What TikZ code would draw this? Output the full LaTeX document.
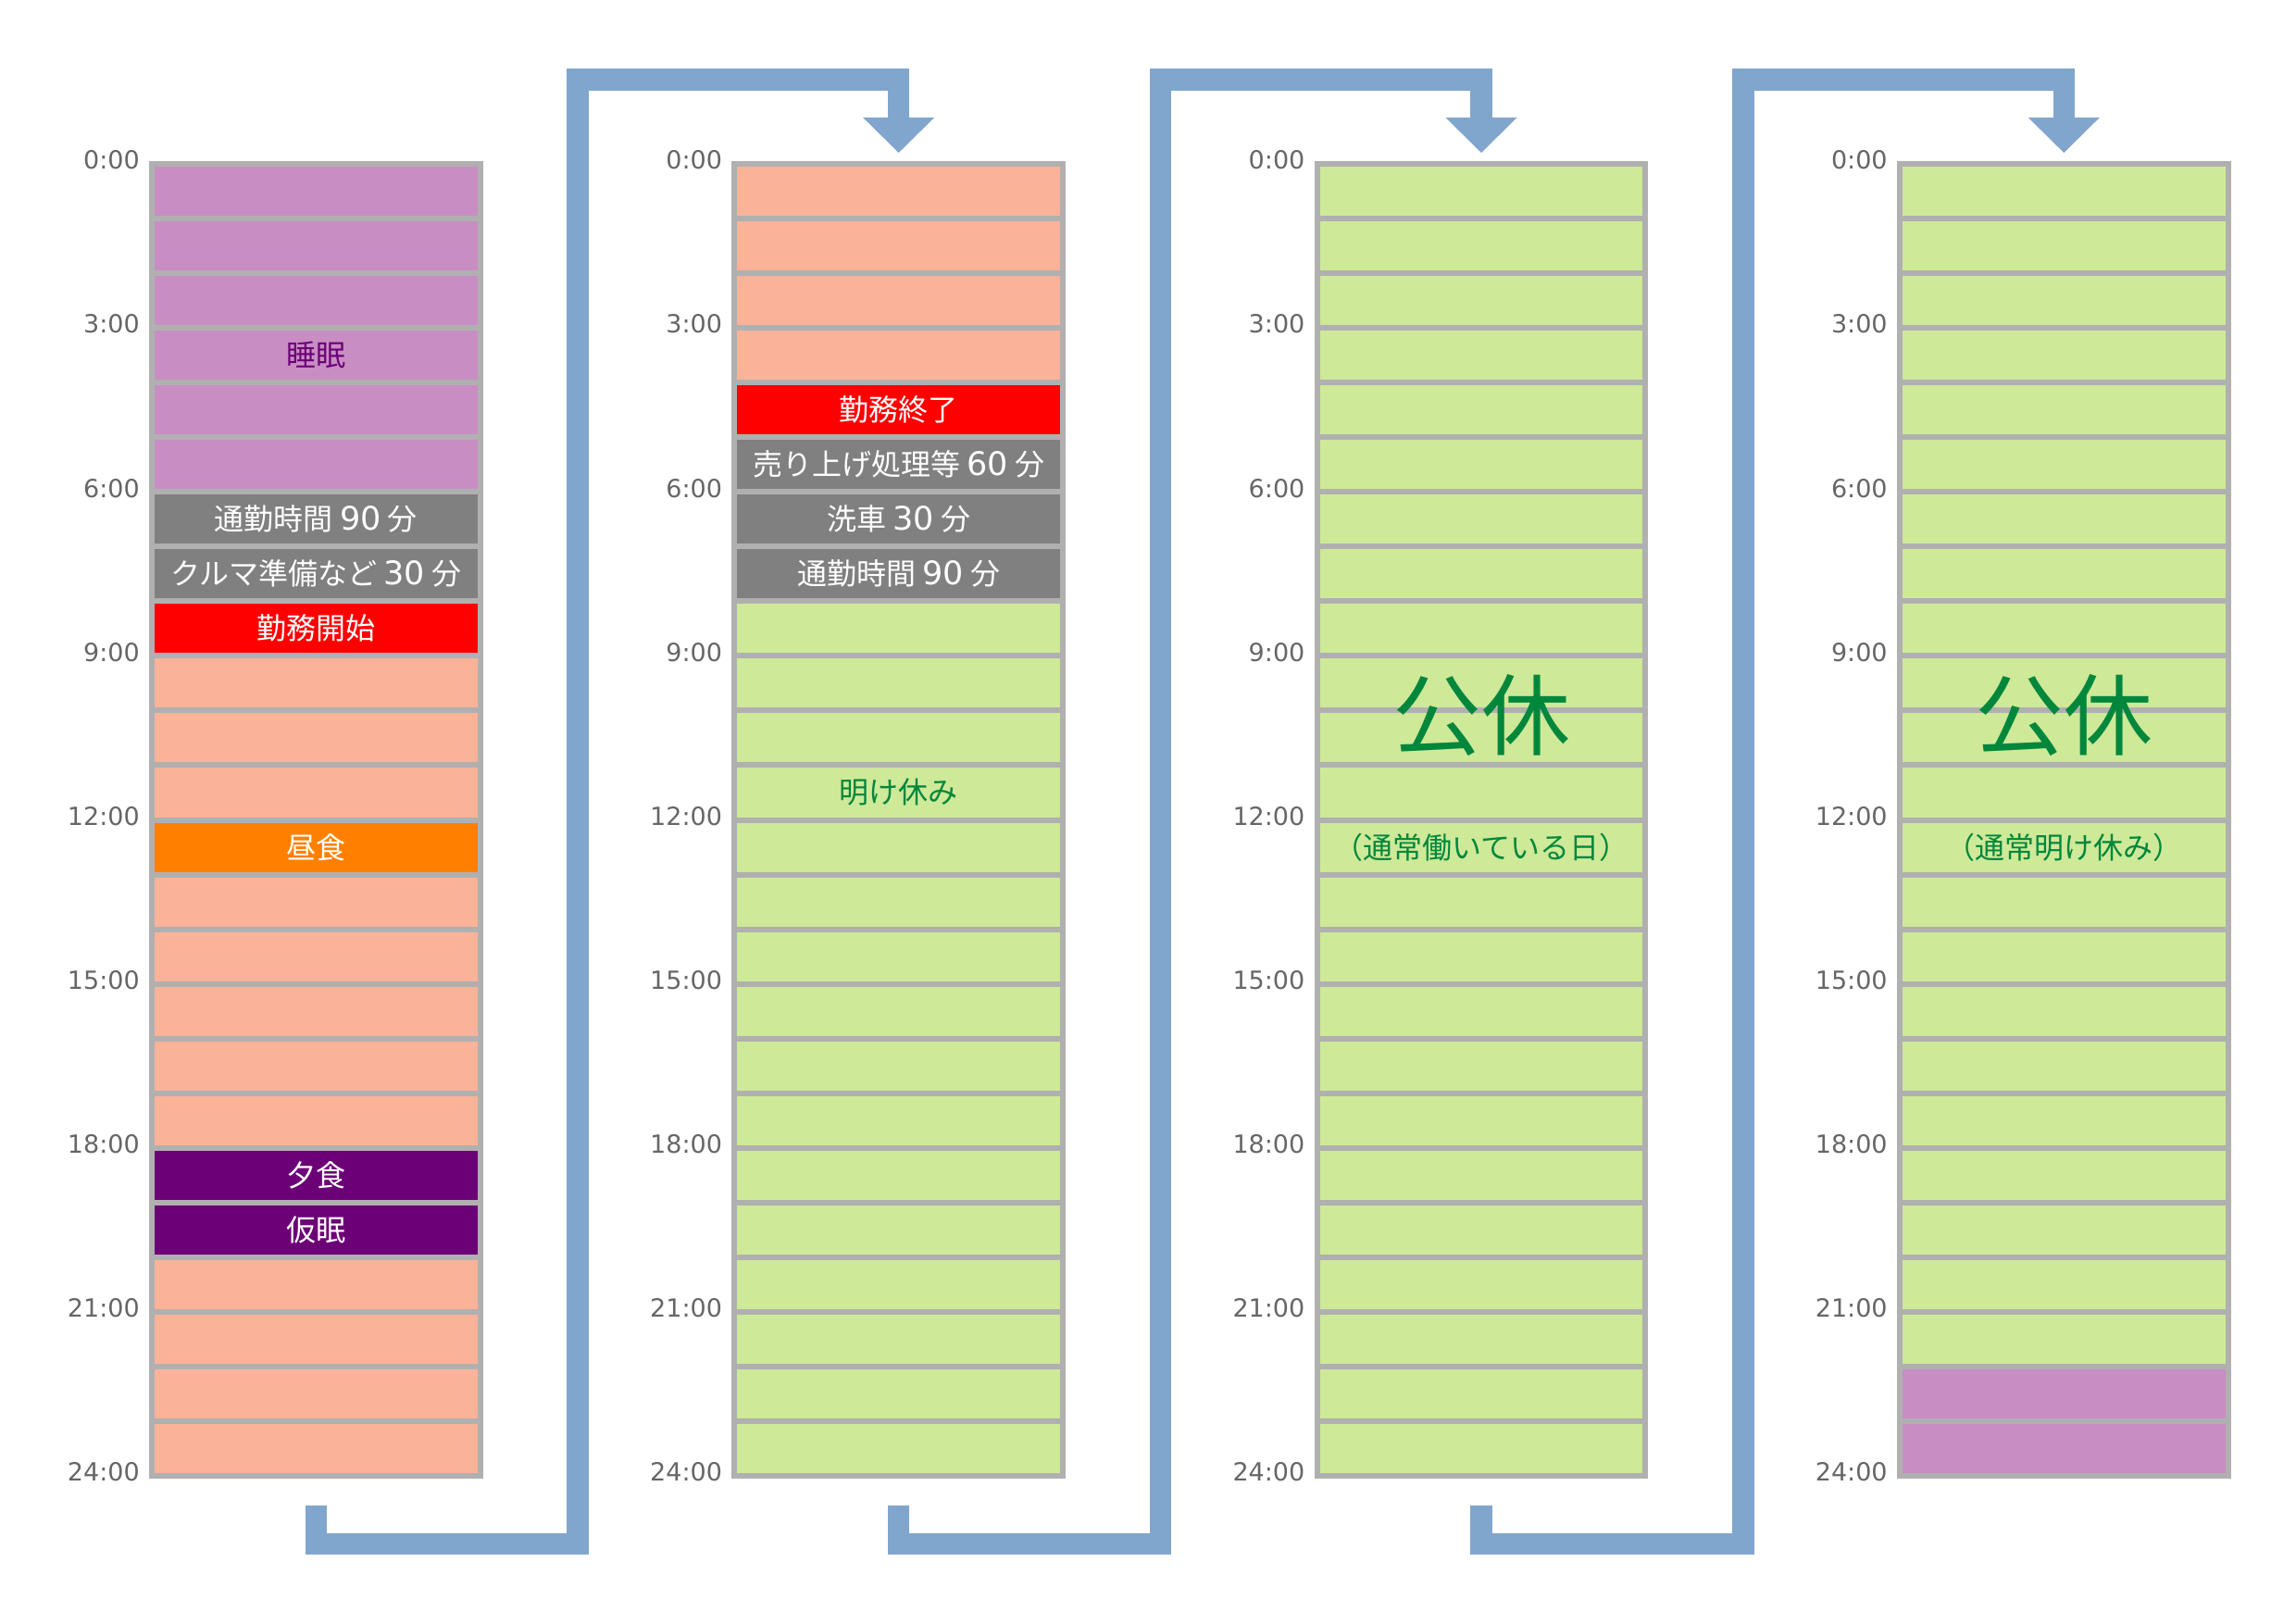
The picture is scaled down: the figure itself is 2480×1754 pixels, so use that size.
\documentclass[tikz,border=0pt]{standalone}
\usepackage{fontspec}
\setmainfont{Noto Sans CJK JP}
\newfontfamily\labfont{DejaVu Sans}
\usetikzlibrary{calc}
\definecolor{sleepc}{HTML}{C88EC3}
\definecolor{workc}{HTML}{FAB398}
\definecolor{offc}{HTML}{CEE998}
\definecolor{redc}{HTML}{FF0000}
\definecolor{grayc}{HTML}{808080}
\definecolor{lunchc}{HTML}{FF8000}
\definecolor{napc}{HTML}{6C0077}
\definecolor{linec}{HTML}{B0B0B0}
\definecolor{bluec}{HTML}{81A6CD}
\definecolor{greentxt}{HTML}{00873C}
\definecolor{labc}{HTML}{666666}
\newcommand\dg[1]{{\labfont\fontsize{17.5pt}{18pt}\selectfont #1}}
\tikzset{
  gridline/.style={draw=linec, line width=3pt},
  colbox/.style={draw=linec, line width=3pt, rectangle, minimum width=177.25pt, minimum height=708.5pt, inner sep=0pt, outer sep=0pt},
  tlabel/.style={anchor=east, inner sep=0pt, text=labc, font=\labfont\fontsize{13.5pt}{15pt}\selectfont},
  celltext/.style={inner sep=0pt, text=white, font=\fontsize{16pt}{18pt}\selectfont},
  bigtext/.style={inner sep=0pt, text=greentxt, font=\fontsize{48pt}{56pt}\selectfont},
  conn/.style={draw=bluec, line width=11.75pt, line join=miter, line cap=butt},
  connhead/.style={fill=bluec},
}
\newcommand\daycol[3]{%
  \foreach \c [count=\r from 0] in {#3} {
    \fill[\c] (#2-177.25,{177+\r*59.0417}) rectangle (#2+177.25,{177+(\r+1)*59.0417});
  }
  \foreach \r in {1,...,23} {
    \draw[gridline] (#2-177.25,{177+\r*59.0417}) -- (#2+177.25,{177+\r*59.0417});
  }
  \node[colbox] (#1) at (#2,885.5) {};
  \foreach \h in {0,3,...,24} {
    \node[tlabel] (#1t\h) at (#2-190.25,{173+\h*59.0417}) {\h:00};
  }
}
\begin{document}
\begin{tikzpicture}[x=0.5pt,y=-0.5pt]
\useasboundingbox (0,0) rectangle (2480,1754);
% columns
\daycol{c1}{341.4}{sleepc,sleepc,sleepc,sleepc,sleepc,sleepc,grayc,grayc,redc,workc,workc,workc,lunchc,workc,workc,workc,workc,workc,napc,napc,workc,workc,workc,workc}
\daycol{c2}{970.7}{workc,workc,workc,workc,redc,grayc,grayc,grayc,offc,offc,offc,offc,offc,offc,offc,offc,offc,offc,offc,offc,offc,offc,offc,offc}
\daycol{c3}{1600.0}{offc,offc,offc,offc,offc,offc,offc,offc,offc,offc,offc,offc,offc,offc,offc,offc,offc,offc,offc,offc,offc,offc,offc,offc}
\daycol{c4}{2229.3}{offc,offc,offc,offc,offc,offc,offc,offc,offc,offc,offc,offc,offc,offc,offc,offc,offc,offc,offc,offc,offc,offc,sleepc,sleepc}
% column 1 texts
\node[celltext, text=napc] (sleep1) at (341.4,{177+3.5*59.0417}) {睡眠};
\node[celltext] (comm1) at (341.4,{177+6.5*59.0417}) {通勤時間 \dg{90} 分};
\node[celltext] (prep1) at (341.4,{177+7.5*59.0417}) {クルマ準備など \dg{30} 分};
\node[celltext] (start1) at (341.4,{177+8.5*59.0417}) {勤務開始};
\node[celltext] (lunch1) at (341.4,{177+12.5*59.0417}) {昼食};
\node[celltext] (dinner1) at (341.4,{177+18.5*59.0417}) {夕食};
\node[celltext] (nap1) at (341.4,{177+19.5*59.0417}) {仮眠};
% column 2 texts
\node[celltext] (end2) at (970.7,{177+4.5*59.0417}) {勤務終了};
\node[celltext] (sales2) at (970.7,{177+5.5*59.0417}) {売り上げ処理等 \dg{60} 分};
\node[celltext] (wash2) at (970.7,{177+6.5*59.0417}) {洗車 \dg{30} 分};
\node[celltext] (comm2) at (970.7,{177+7.5*59.0417}) {通勤時間 \dg{90} 分};
\node[celltext, text=greentxt] (rest2) at (970.7,{177+11.5*59.0417}) {明け休み};
% column 3 texts
\node[bigtext] (off3) at (1600.0,773) {公休};
\node[celltext, text=greentxt] (note3) at (1600.0,{177+12.5*59.0417}) {\kern-.5em（通常働いている日）\kern-.5em};
% column 4 texts
\node[bigtext] (off4) at (2229.3,773) {公休};
\node[celltext, text=greentxt] (note4) at (2229.3,{177+12.5*59.0417}) {\kern-.5em（通常明け休み）\kern-.5em};
% connectors
\foreach \a/\b in {c1/c2,c2/c3,c3/c4}{
  \coordinate (s) at ($(\a.south)+(0,31.7)$);
  \coordinate (b) at ($(\a.south)+(0,73.5)$);
  \coordinate (v) at ($(\a.east)+(105.5,0)$);
  \coordinate (h) at ($(\b.north)+(0,-91)$);
  \coordinate (t) at ($(\b.north)+(0,-50)$);
  \coordinate (tip) at ($(\b.north)+(0,-12)$);
  \draw[conn] (s) -- (b) -- (b -| v) -- (h -| v) -- (h) -- (t);
  \fill[connhead] ($(t)+(-38.5,0)$) -- ($(t)+(38.5,0)$) -- (tip) -- cycle;
}
\end{tikzpicture}
\end{document}
